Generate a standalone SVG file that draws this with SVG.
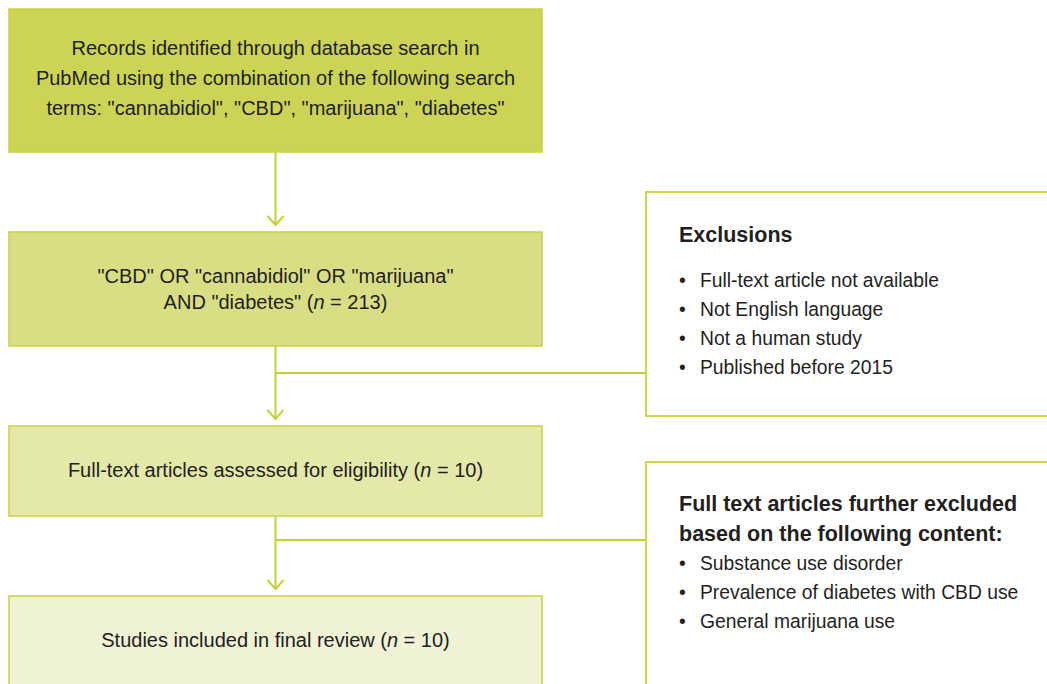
<svg xmlns="http://www.w3.org/2000/svg" width="1047" height="684" viewBox="0 0 1047 684">
<defs>
<style>
.box{stroke:#c9d23c;stroke-width:1.5}
.side{fill:#ffffff;stroke:#cdd64a;stroke-width:2}
.t{font-family:"Liberation Sans",Arial,sans-serif;font-size:20px;fill:#231f20;text-anchor:middle}
.b{font-family:"Liberation Sans",Arial,sans-serif;font-size:19.3px;fill:#231f20}
.h{font-family:"Liberation Sans",Arial,sans-serif;font-size:21.5px;font-weight:bold;fill:#231f20}
.c{fill:none;stroke:#c6d034;stroke-width:2}
</style>
<marker id="arr" markerUnits="userSpaceOnUse" markerWidth="20" markerHeight="20" refX="10" refY="10" orient="auto" viewBox="0 0 20 20">
<path d="M1,2 L10,10 L1,18" fill="none" stroke="#c6d034" stroke-width="2"/>
</marker>
</defs>
<g id="connectors">
<path class="c" d="M275.5,152 V225" marker-end="url(#arr)"/>
<path class="c" d="M275.5,346 V419" marker-end="url(#arr)"/>
<path class="c" d="M275.5,516 V589" marker-end="url(#arr)"/>
<path class="c" d="M275.5,373 H645"/>
<path class="c" d="M275.5,540 H645"/>
</g>
<g id="n1">
<rect class="box" x="9" y="9" width="533" height="143" fill="#cdd455"/>
<text class="t" x="275.5" y="55">Records identified through database search in</text>
<text class="t" x="275.5" y="85">PubMed using the combination of the following search</text>
<text class="t" x="275.5" y="115">terms: "cannabidiol", "CBD", "marijuana", "diabetes"</text>
</g>
<g id="n2">
<rect class="box" x="9" y="232" width="533" height="114" fill="#d9de84"/>
<text class="t" x="275.5" y="283">"CBD" OR "cannabidiol" OR "marijuana"</text>
<text class="t" x="275.5" y="309">AND "diabetes" (<tspan font-style="italic">n</tspan> = 213)</text>
</g>
<g id="n3">
<rect class="box" x="9" y="426" width="533" height="90" fill="#e4e9a9"/>
<text class="t" x="275.5" y="477">Full-text articles assessed for eligibility (<tspan font-style="italic">n</tspan> = 10)</text>
</g>
<g id="n4">
<rect class="box" x="9" y="596" width="533" height="100" fill="#eff2d4"/>
<text class="t" x="275.5" y="647">Studies included in final review (<tspan font-style="italic">n</tspan> = 10)</text>
</g>
<g id="exclusions">
<rect class="side" x="646" y="192" width="420" height="224"/>
<text class="h" x="679" y="242">Exclusions</text>
<text class="b" x="679" y="287">•<tspan x="700">Full-text article not available</tspan></text>
<text class="b" x="679" y="316">•<tspan x="700">Not English language</tspan></text>
<text class="b" x="679" y="345">•<tspan x="700">Not a human study</tspan></text>
<text class="b" x="679" y="374">•<tspan x="700">Published before 2015</tspan></text>
</g>
<g id="further">
<rect class="side" x="646" y="462" width="420" height="240"/>
<text class="h" x="679" y="511">Full text articles further excluded</text>
<text class="h" x="679" y="541">based on the following content:</text>
<text class="b" x="679" y="570">•<tspan x="700">Substance use disorder</tspan></text>
<text class="b" x="679" y="599">•<tspan x="700">Prevalence of diabetes with CBD use</tspan></text>
<text class="b" x="679" y="628">•<tspan x="700">General marijuana use</tspan></text>
</g>
</svg>
